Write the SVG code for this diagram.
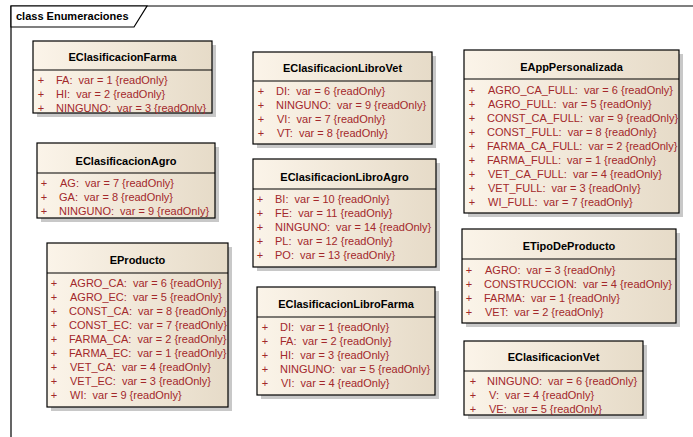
<svg xmlns="http://www.w3.org/2000/svg" width="693" height="437" viewBox="0 0 693 437">
<style>
.bg{fill:#ffffff}
.frame{fill:none;stroke:#000;stroke-width:1.2}
.tab{fill:#ffffff;stroke:#000;stroke-width:1.2}
.lbl{font-family:"Liberation Sans",Arial,sans-serif;font-size:11px;font-weight:bold;fill:#000}
.shadow{fill:#9a9a9a;opacity:0.55}
.box{fill:url(#g);stroke:#000;stroke-width:1.2}
.sep{stroke:#000;stroke-width:1.2}
.title{font-family:"Liberation Sans",Arial,sans-serif;font-size:11px;font-weight:bold;fill:#000;text-anchor:middle}
.attr{font-family:"Liberation Sans",Arial,sans-serif;font-size:11px;fill:#A3282B;white-space:pre;transform:translateY(-1px)}
.vis{font-family:"Liberation Sans",Arial,sans-serif;font-size:11px;fill:#A3282B;text-anchor:middle;transform:translateY(-1px)}
</style>
<defs>
<linearGradient id="g" x1="0" y1="0" x2="1" y2="0">
<stop offset="0" stop-color="#FBF4E9"/>
<stop offset="1" stop-color="#E6DBC8"/>
</linearGradient>
</defs>
<rect class="bg" x="0" y="0" width="693" height="437"/>
<g id="frame">
<path class="frame" d="M11,437 L11,6 L693,6"/>
<path class="tab" d="M11,6 L147,6 L134,27 L11,27 Z"/>
<text class="lbl" x="16" y="20">class Enumeraciones</text>
</g>
<g id="connectors"></g>

<g id="EClasificacionFarma">
<rect class="shadow" x="37" y="45" width="179" height="72"/>
<rect class="box" x="33" y="41" width="179" height="72"/>
<line class="sep" x1="33" y1="70" x2="212" y2="70"/>
<text class="title" x="122.5" y="61">EClasificacionFarma</text>
<text class="vis" x="41" y="85">+</text><text class="attr" x="56" y="85">FA:  var = 1 {readOnly}</text>
<text class="vis" x="41" y="99">+</text><text class="attr" x="56" y="99">HI:  var = 2 {readOnly}</text>
<text class="vis" x="41" y="113">+</text><text class="attr" x="56" y="113">NINGUNO:  var = 3 {readOnly}</text>
</g>

<g id="EClasificacionAgro">
<rect class="shadow" x="41" y="147" width="178" height="75"/>
<rect class="box" x="37" y="143" width="178" height="75"/>
<line class="sep" x1="37" y1="173" x2="215" y2="173"/>
<text class="title" x="126" y="165">EClasificacionAgro</text>
<text class="vis" x="44" y="188">+</text><text class="attr" x="60" y="188">AG:  var = 7 {readOnly}</text>
<text class="vis" x="44" y="202">+</text><text class="attr" x="59" y="202">GA:  var = 8 {readOnly}</text>
<text class="vis" x="44" y="216">+</text><text class="attr" x="59" y="216">NINGUNO:  var = 9 {readOnly}</text>
</g>

<g id="EProducto">
<rect class="shadow" x="51" y="247" width="181" height="164"/>
<rect class="box" x="47" y="243" width="181" height="164"/>
<line class="sep" x1="47" y1="273" x2="228" y2="273"/>
<text class="title" x="137.5" y="264">EProducto</text>
<text class="vis" x="54" y="288">+</text><text class="attr" x="70" y="288">AGRO_CA:  var = 6 {readOnly}</text>
<text class="vis" x="54" y="302">+</text><text class="attr" x="70" y="302">AGRO_EC:  var = 5 {readOnly}</text>
<text class="vis" x="54" y="316">+</text><text class="attr" x="69" y="316">CONST_CA:  var = 8 {readOnly}</text>
<text class="vis" x="54" y="330">+</text><text class="attr" x="69" y="330">CONST_EC:  var = 7 {readOnly}</text>
<text class="vis" x="54" y="344">+</text><text class="attr" x="69" y="344">FARMA_CA:  var = 2 {readOnly}</text>
<text class="vis" x="54" y="358">+</text><text class="attr" x="69" y="358">FARMA_EC:  var = 1 {readOnly}</text>
<text class="vis" x="54" y="372">+</text><text class="attr" x="70" y="372">VET_CA:  var = 4 {readOnly}</text>
<text class="vis" x="54" y="386">+</text><text class="attr" x="70" y="386">VET_EC:  var = 3 {readOnly}</text>
<text class="vis" x="54" y="400">+</text><text class="attr" x="70" y="400">WI:  var = 9 {readOnly}</text>
</g>

<g id="EClasificacionLibroVet">
<rect class="shadow" x="257" y="56" width="179" height="92"/>
<rect class="box" x="253" y="52" width="179" height="92"/>
<line class="sep" x1="253" y1="81" x2="432" y2="81"/>
<text class="title" x="342.5" y="72">EClasificacionLibroVet</text>
<text class="vis" x="261" y="96">+</text><text class="attr" x="276" y="96">DI:  var = 6 {readOnly}</text>
<text class="vis" x="261" y="110">+</text><text class="attr" x="276" y="110">NINGUNO:  var = 9 {readOnly}</text>
<text class="vis" x="261" y="124">+</text><text class="attr" x="277" y="124">VI:  var = 7 {readOnly}</text>
<text class="vis" x="261" y="138">+</text><text class="attr" x="277" y="138">VT:  var = 8 {readOnly}</text>
</g>

<g id="EClasificacionLibroAgro">
<rect class="shadow" x="257" y="163" width="183" height="108"/>
<rect class="box" x="253" y="159" width="183" height="108"/>
<line class="sep" x1="253" y1="189" x2="436" y2="189"/>
<text class="title" x="344.5" y="181">EClasificacionLibroAgro</text>
<text class="vis" x="260" y="204">+</text><text class="attr" x="275" y="204">BI:  var = 10 {readOnly}</text>
<text class="vis" x="260" y="218">+</text><text class="attr" x="275" y="218">FE:  var = 11 {readOnly}</text>
<text class="vis" x="260" y="232">+</text><text class="attr" x="275" y="232">NINGUNO:  var = 14 {readOnly}</text>
<text class="vis" x="260" y="246">+</text><text class="attr" x="275" y="246">PL:  var = 12 {readOnly}</text>
<text class="vis" x="260" y="260">+</text><text class="attr" x="275" y="260">PO:  var = 13 {readOnly}</text>
</g>

<g id="EClasificacionLibroFarma">
<rect class="shadow" x="261" y="291" width="178" height="108"/>
<rect class="box" x="257" y="287" width="178" height="108"/>
<line class="sep" x1="257" y1="317" x2="435" y2="317"/>
<text class="title" x="346" y="308">EClasificacionLibroFarma</text>
<text class="vis" x="265" y="332">+</text><text class="attr" x="280" y="332">DI:  var = 1 {readOnly}</text>
<text class="vis" x="265" y="346">+</text><text class="attr" x="280" y="346">FA:  var = 2 {readOnly}</text>
<text class="vis" x="265" y="360">+</text><text class="attr" x="280" y="360">HI:  var = 3 {readOnly}</text>
<text class="vis" x="265" y="374">+</text><text class="attr" x="280" y="374">NINGUNO:  var = 5 {readOnly}</text>
<text class="vis" x="265" y="388">+</text><text class="attr" x="281" y="388">VI:  var = 4 {readOnly}</text>
</g>

<g id="EAppPersonalizada">
<rect class="shadow" x="468" y="54" width="215" height="163"/>
<rect class="box" x="464" y="50" width="215" height="163"/>
<line class="sep" x1="464" y1="79" x2="679" y2="79"/>
<text class="title" x="571.5" y="71">EAppPersonalizada</text>
<text class="vis" x="472" y="95">+</text><text class="attr" x="488" y="95">AGRO_CA_FULL:  var = 6 {readOnly}</text>
<text class="vis" x="472" y="109">+</text><text class="attr" x="488" y="109">AGRO_FULL:  var = 5 {readOnly}</text>
<text class="vis" x="472" y="123">+</text><text class="attr" x="487" y="123">CONST_CA_FULL:  var = 9 {readOnly}</text>
<text class="vis" x="472" y="137">+</text><text class="attr" x="487" y="137">CONST_FULL:  var = 8 {readOnly}</text>
<text class="vis" x="472" y="151">+</text><text class="attr" x="487" y="151">FARMA_CA_FULL:  var = 2 {readOnly}</text>
<text class="vis" x="472" y="165">+</text><text class="attr" x="487" y="165">FARMA_FULL:  var = 1 {readOnly}</text>
<text class="vis" x="472" y="179">+</text><text class="attr" x="488" y="179">VET_CA_FULL:  var = 4 {readOnly}</text>
<text class="vis" x="472" y="193">+</text><text class="attr" x="488" y="193">VET_FULL:  var = 3 {readOnly}</text>
<text class="vis" x="472" y="207">+</text><text class="attr" x="488" y="207">WI_FULL:  var = 7 {readOnly}</text>
</g>

<g id="ETipoDeProducto">
<rect class="shadow" x="466" y="233" width="214" height="94"/>
<rect class="box" x="462" y="229" width="214" height="94"/>
<line class="sep" x1="462" y1="259" x2="676" y2="259"/>
<text class="title" x="569" y="250">ETipoDeProducto</text>
<text class="vis" x="469" y="275">+</text><text class="attr" x="485" y="275">AGRO:  var = 3 {readOnly}</text>
<text class="vis" x="469" y="289">+</text><text class="attr" x="484" y="289">CONSTRUCCION:  var = 4 {readOnly}</text>
<text class="vis" x="469" y="303">+</text><text class="attr" x="484" y="303">FARMA:  var = 1 {readOnly}</text>
<text class="vis" x="469" y="317">+</text><text class="attr" x="485" y="317">VET:  var = 2 {readOnly}</text>
</g>

<g id="EClasificacionVet">
<rect class="shadow" x="468" y="345" width="179" height="74"/>
<rect class="box" x="464" y="341" width="179" height="74"/>
<line class="sep" x1="464" y1="371" x2="643" y2="371"/>
<text class="title" x="553.5" y="361">EClasificacionVet</text>
<text class="vis" x="473" y="386">+</text><text class="attr" x="487" y="386">NINGUNO:  var = 6 {readOnly}</text>
<text class="vis" x="473" y="400">+</text><text class="attr" x="489" y="400">V:  var = 4 {readOnly}</text>
<text class="vis" x="473" y="414">+</text><text class="attr" x="489" y="414">VE:  var = 5 {readOnly}</text>
</g>
</svg>
